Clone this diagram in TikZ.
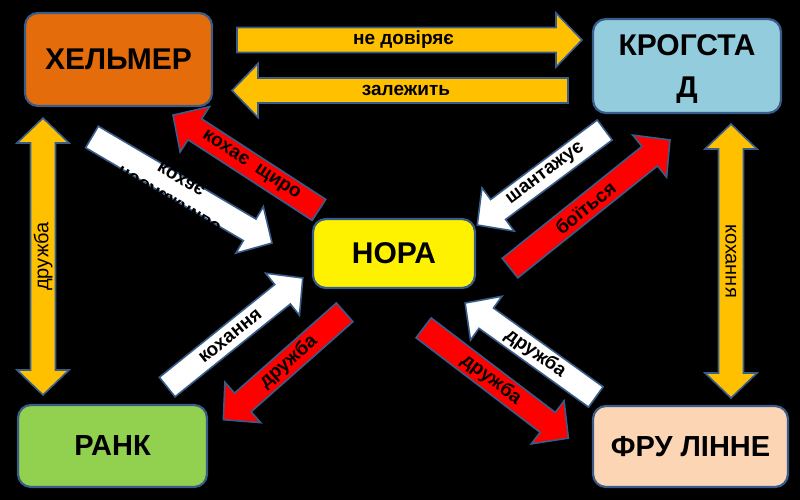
\documentclass[tikz,border=0pt]{standalone}
\usepackage{fontspec}
\setmainfont{Liberation Sans}
\definecolor{edge}{HTML}{385D8A}
\definecolor{helmerorange}{HTML}{E46C0A}
\definecolor{krogblue}{HTML}{93CDDD}
\definecolor{rankgreen}{HTML}{92D050}
\definecolor{lindepeach}{HTML}{FCD5B5}
\definecolor{arrowgold}{HTML}{FFC000}

\tikzset{
  person/.style={draw=edge, line width=2.2pt, rounded corners=13pt, align=center, inner sep=0pt, font=\fontsize{30}{42}\selectfont\bfseries},
  lowername/.style={font=\fontsize{29}{40}\selectfont\bfseries},
  blockarrow/.style={draw=edge, line width=1.6pt},
  arrowlabel/.style={inner sep=0pt, font=\fontsize{19}{23}\selectfont\bfseries},
  sidelabel/.style={inner sep=0pt, font=\fontsize{20}{24}\selectfont},
}

% one-headed block arrow: fill, centre, angle, length, name, label options, label
\newcommand{\onearrow}[7]{%
  \begin{scope}[shift={#2}, rotate=#3]
    \filldraw[blockarrow, fill=#1] (-#4/2,-12.5) -- ({#4/2-26},-12.5) -- ({#4/2-26},-27)
      -- (#4/2,0) -- ({#4/2-26},27) -- ({#4/2-26},12.5) -- (-#4/2,12.5) -- cycle;
    \node[arrowlabel, #6] (#5) at (-6,0) {#7};
  \end{scope}}
% vertical two-headed block arrow: centre, length, name, label options, label
\newcommand{\twoarrow}[5]{%
  \begin{scope}[shift={#1}, rotate=90]
    \filldraw[blockarrow, fill=arrowgold] (-#2/2,0) -- ({-#2/2+25},-26) -- ({-#2/2+25},-12.5)
      -- ({#2/2-25},-12.5) -- ({#2/2-25},-26) -- (#2/2,0) -- ({#2/2-25},26) -- ({#2/2-25},12.5)
      -- ({-#2/2+25},12.5) -- ({-#2/2+25},26) -- cycle;
  \end{scope}
  \node[sidelabel, #4] (#3) at #1 {#5};}

\begin{document}
\begin{tikzpicture}[x=1pt, y=-1pt]
\useasboundingbox (0,0) rectangle (800,500);
\fill[black] (0,0) rectangle (800,500);
% --- characters ---
\node[person, fill=helmerorange, minimum width=187pt, minimum height=93pt] (helmer) at (118.5,59.5) {ХЕЛЬМЕР};
\node[person, fill=krogblue, minimum width=188pt, minimum height=94pt, text depth=0pt] (krogstad) at (687,66) {КРОГСТА\\Д};
\node[person, fill=yellow, minimum width=162pt, minimum height=69pt] (nora) at (394,253.5) {НОРА};
\node[person, lowername, fill=rankgreen, minimum width=189pt, minimum height=82pt] (rank) at (112.5,446) {РАНК};
\node[person, lowername, fill=lindepeach, minimum width=195pt, minimum height=81pt] (linde) at (690.5,446.5) {ФРУ ЛІННЕ};
% --- top pair ---
\onearrow{arrowgold}{(409.5,40)}{0}{345}{distrust}{}{не довіряє}
\onearrow{arrowgold}{(400,90.5)}{180}{336}{depends}{}{залежить}
% --- side arrows ---
\twoarrow{(43,256.5)}{277}{friends}{rotate=90}{дружба}
\twoarrow{(731,261)}{274}{lovers}{rotate=-90}{кохання}
% --- around Nora ---
\onearrow{white}{(182,190)}{-30.5}{209}{indulgent}{rotate=-30.5, yscale=-1, yshift=5pt, align=center, font=\fontsize{19}{24}\selectfont\bfseries}{поблажливо\\кохає}
\onearrow{red}{(246,162.5)}{147}{174}{sincere}{rotate=-33}{кохає~~щиро}
\onearrow{white}{(541,177.5)}{-143.3}{159}{blackmail}{rotate=36.7}{шантажує}
\onearrow{red}{(590,204)}{38.7}{205}{fear}{rotate=38.7}{боїться}
\onearrow{white}{(235,332.5)}{38.8}{174}{rankloves}{rotate=38.8}{кохання}
\onearrow{red}{(284,366)}{-138.5}{162}{norarank}{rotate=41.5}{дружба}
\onearrow{white}{(530.5,350)}{144.3}{161}{lindenora}{rotate=-35.7}{дружба}
\onearrow{red}{(496,383)}{-37.3}{182}{noralinde}{rotate=-37.3}{дружба}
\end{tikzpicture}
\end{document}
